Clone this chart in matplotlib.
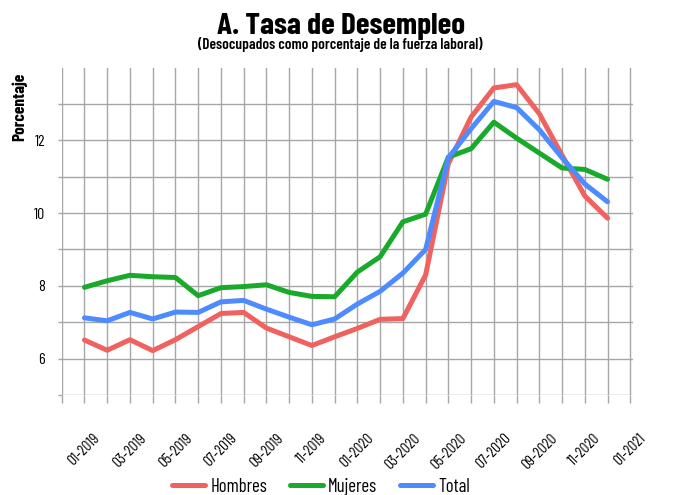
import matplotlib
matplotlib.use("Agg")
import matplotlib.pyplot as plt
from matplotlib.lines import Line2D

plt.rcParams['font.family'] = ['Barlow Condensed', 'DejaVu Sans']

months = ["01-2019", "02-2019", "03-2019", "04-2019", "05-2019", "06-2019",
          "07-2019", "08-2019", "09-2019", "10-2019", "11-2019", "12-2019",
          "01-2020", "02-2020", "03-2020", "04-2020", "05-2020", "06-2020",
          "07-2020", "08-2020", "09-2020", "10-2020", "11-2020", "12-2020"]
tick_labels = ["01-2019", "", "03-2019", "", "05-2019", "", "07-2019", "",
               "09-2019", "", "11-2019", "", "01-2020", "", "03-2020", "",
               "05-2020", "", "07-2020", "", "09-2020", "", "11-2020", "", "01-2021"]

hombres = [6.51, 6.23, 6.52, 6.22, 6.52, 6.88, 7.24, 7.27, 6.84, 6.60, 6.36, 6.60,
           6.83, 7.08, 7.10, 8.30, 11.36, 12.64, 13.44, 13.53, 12.73, 11.59, 10.47, 9.86]
mujeres = [7.96, 8.14, 8.29, 8.25, 8.23, 7.73, 7.95, 7.98, 8.03, 7.82, 7.71, 7.70,
           8.38, 8.80, 9.76, 9.97, 11.54, 11.77, 12.50, 12.06, 11.65, 11.24, 11.20, 10.93]
total = [7.12, 7.04, 7.27, 7.09, 7.28, 7.27, 7.56, 7.60, 7.36, 7.14, 6.93, 7.09,
         7.50, 7.85, 8.35, 9.00, 11.52, 12.32, 13.07, 12.90, 12.29, 11.52, 10.80, 10.31]

series_names = ["Hombres", "Mujeres", "Total"]
colors = ["#F0625F", "#1AAA2B", "#4E8BFF"]

fig = plt.figure(figsize=(6.84, 4.95), dpi=100)
ax = fig.add_axes([61.7/684, 1-395/495, (632.6-61.7)/684, (395-68.3)/495])

x = list(range(len(months)))
for vals, c, name in zip([hombres, mujeres, total], colors, series_names):
    ax.plot(x, vals, color=c, lw=3.6, solid_capstyle='round', solid_joinstyle='round',
            label=name, zorder=3)

ax.set_xlim(-1, 24.1)
ax.set_ylim(5, 13.98)
ax.set_xticks(list(range(-1, 25)))
ax.set_xticklabels([""] + tick_labels, rotation=45, ha='center', fontsize=11)
ax.set_yticks(list(range(5, 14)))
ax.set_yticklabels(["" if v % 2 else str(v) for v in range(5, 14)], fontsize=11.5)

gcol = "#A6A6A6"
ax.grid(True, color=gcol, lw=1.0, zorder=0)
ax.tick_params(axis='x', length=6, width=1, color=gcol, pad=20)
ax.tick_params(axis='y', length=3, width=1, color=gcol, pad=9)
for s in ax.spines.values():
    s.set_visible(False)

fig.text(341/684, 1-33.5/495, "A. Tasa de Desempleo", ha='center', va='baseline',
         fontsize=22.5, fontweight='bold')
fig.text(340/684, 1-49.5/495, "(Desocupados como porcentaje de la fuerza laboral)",
         ha='center', va='baseline', fontsize=11, fontweight='semibold')
fig.text(20/684, 1-107/495, "Porcentaje", rotation=90, ha='center', va='center',
         fontsize=12.5, fontweight='bold')

handles = [Line2D([0], [0], color=c, lw=3.6, solid_capstyle='round') for c in colors]
fig.legend(handles, series_names, loc='center', bbox_to_anchor=(321/684, 1-487/495),
           ncol=3, frameon=False, fontsize=13.5, handlelength=1.75, columnspacing=1.2,
           handletextpad=0.3)

fig.savefig("out.png", dpi=100)
